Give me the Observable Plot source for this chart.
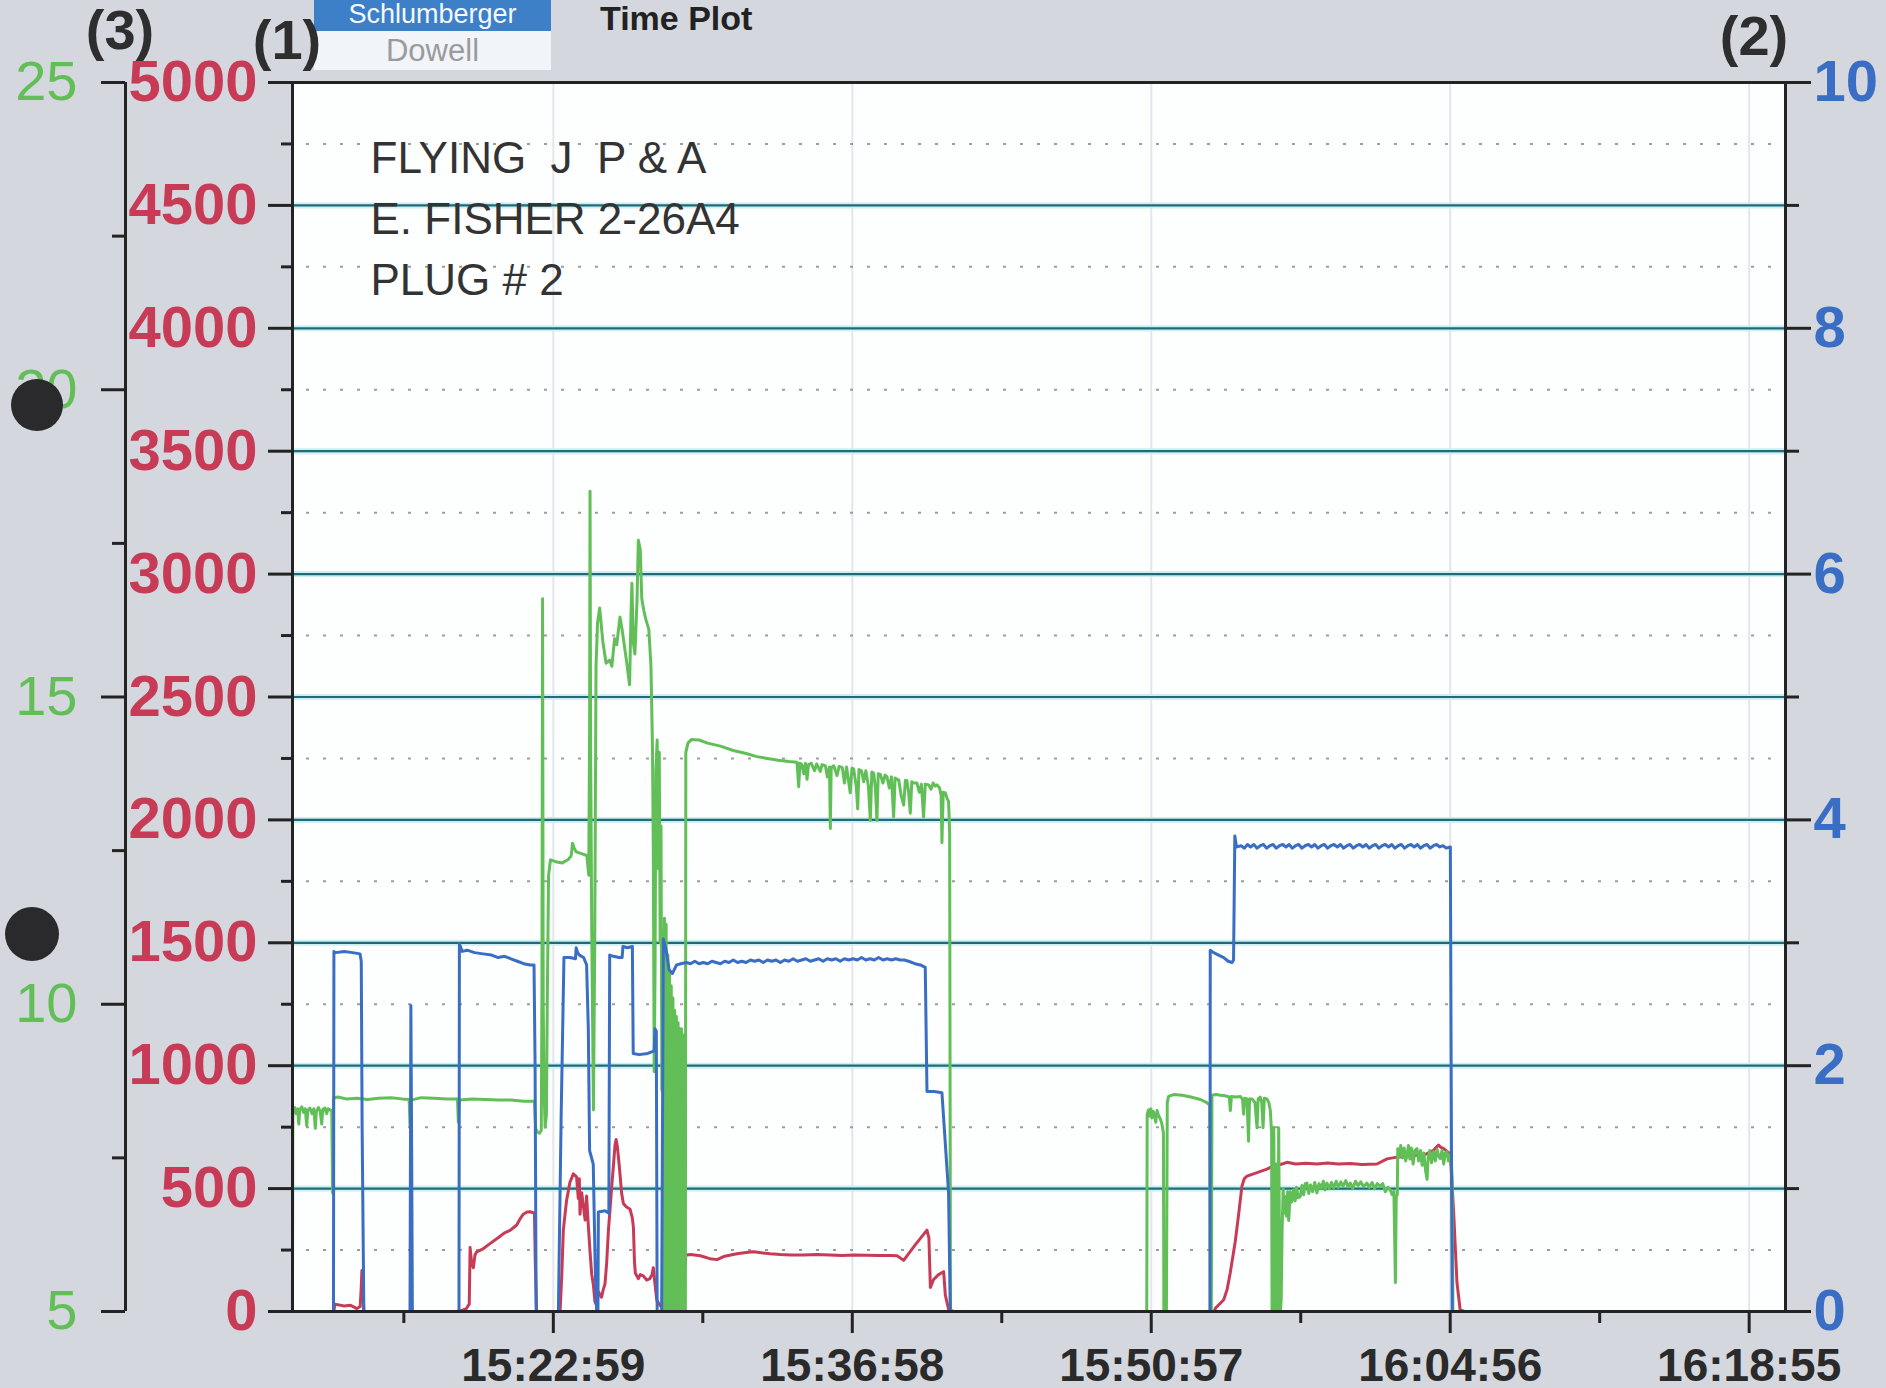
<!DOCTYPE html>
<html>
<head>
<meta charset="utf-8">
<script src="https://cdn.jsdelivr.net/npm/d3@7"></script>
<script src="https://cdn.jsdelivr.net/npm/@observablehq/plot@0.6"></script>
<style>
  html, body { margin: 0; padding: 0; }
  body { width: 1886px; height: 1388px; overflow: hidden; position: relative;
         background: #d4d7dd; font-family: "Liberation Sans", Arial, sans-serif; }
  #chart { position: absolute; left: 0; top: 0; }
  .ov { position: absolute; white-space: nowrap; }
  .paren { font-weight: bold; font-size: 56px; color: #2e2e2e; line-height: 1; transform: translate(-50%, -50%); }
  .hole { position: absolute; border-radius: 50%; background: #2a2a2d; }
  #slb { left: 314px; top: 0; width: 237px; height: 31px; background: #3d80c8; overflow: hidden; }
  #slb span { position: absolute; left: 0; width: 237px; text-align: center; top: 1px;
              color: #f4f8ff; font-size: 27px; line-height: 27px; }
  #dowell { left: 314px; top: 31px; width: 237px; height: 39px; background: #f1f4f9;
            color: #9b9b9b; font-size: 31px; line-height: 39px; text-align: center; }
  #tplot { left: 600px; top: 1px; font-weight: bold; font-size: 34px; line-height: 34px; color: #222; }
</style>
</head>
<body>
<div id="chart"></div>
<div class="ov" id="slb"><span>Schlumberger</span></div>
<div class="ov" id="dowell">Dowell</div>
<div class="ov" id="tplot">Time Plot</div>
<div class="ov paren" style="left:120px;top:30px">(3)</div>
<div class="ov paren" style="left:287px;top:40px">(1)</div>
<div class="ov paren" style="left:1754px;top:36px">(2)</div>
<div class="hole" style="left:11px;top:379px;width:52px;height:52px"></div>
<div class="hole" style="left:5px;top:907px;width:54px;height:54px"></div>
<script>
// ---------- data (time = minutes after 15:00:00) ----------
const xTickLabels = ["15:22:59", "15:36:58", "15:50:57", "16:04:56", "16:18:55"];
const xDomainLabels = ["15:10:47", "16:20:37"];
const pressureTicks = [0, 500, 1000, 1500, 2000, 2500, 3000, 3500, 4000, 4500, 5000];
const pressureMinor = [250, 750, 1250, 1750, 2250, 2750, 3250, 3750, 4250, 4750];
const rateTicks = [0, 2, 4, 6, 8, 10];
const rateMinor = [1, 3, 5, 7, 9];
const densityTicks = [5, 10, 15, 20, 25];
const densityMinor = [7.5, 12.5, 17.5, 22.5];
const annotation = ["FLYING\u00a0\u00a0J\u00a0\u00a0P & A", "E. FISHER 2-26A4", "PLUG # 2"];

// (1) pressure, psi (red)
const pressure = [
  [10.78,0],[12.72,0],[12.76,30],[13.20,22],[13.50,25],[13.80,12],[13.95,20],[14.00,100],[14.03,167],[14.07,120],[14.12,0],
  [18.55,0],[18.90,10],[19.05,30],[19.09,260],[19.16,200],[19.24,178],[19.32,230],[19.40,243],[19.70,255],[20.02,276],
  [20.40,300],[20.70,320],[20.96,330],[21.27,352],[21.45,380],[21.58,396],[21.75,405],[21.89,406],[22.10,400],[22.14,200],[22.20,0],
  [23.30,0],[23.38,150],[23.45,330],[23.60,450],[23.76,526],[23.92,560],[24.07,548],[24.15,460],[24.20,540],[24.23,396],
  [24.31,483],[24.40,420],[24.47,372],[24.54,470],[24.62,350],[24.70,243],[24.78,150],[24.85,112],[24.93,40],[25.01,25],
  [25.09,80],[25.17,70],[25.24,58],[25.32,90],[25.40,112],[25.48,200],[25.56,330],[25.64,420],[25.71,504],[25.80,600],
  [25.87,679],[25.92,700],[25.98,670],[26.06,600],[26.18,480],[26.26,439],[26.40,425],[26.57,417],[26.68,380],[26.73,341],
  [26.78,200],[26.82,156],[26.96,134],[27.05,150],[27.19,145],[27.35,128],[27.50,134],[27.60,150],[27.66,178],[27.74,110],
  [27.82,47],[27.97,25],[28.13,14],[28.50,20],[29.00,15],[29.18,230],[29.40,232],[29.86,227],[30.30,215],[30.64,211],
  [31.00,225],[31.57,235],[32.00,240],[32.35,243],[32.80,238],[33.13,235],[33.60,232],[34.10,230],[34.69,230],[35.30,232],
  [35.90,230],[36.50,228],[37.03,230],[37.60,229],[38.20,228],[38.80,228],[39.06,227],[39.37,208],[39.90,270],[40.46,331],
  [40.55,300],[40.62,98],[40.77,130],[41.00,150],[41.24,162],[41.32,66],[41.47,10],[41.71,0],
  [53.90,0],[53.95,13],[54.34,48],[54.50,90],[54.65,160],[54.88,285],[55.04,397],[55.19,509],[55.30,540],[55.43,551],
  [55.90,565],[56.36,579],[56.68,593],[57.00,598],[57.30,607],[57.70,600],[58.20,603],[58.70,600],[59.20,604],[59.70,600],
  [60.26,602],[60.80,598],[61.51,600],[61.98,621],[62.44,628],[62.90,632],[63.38,636],[63.80,640],[64.16,656],[64.30,670],
  [64.39,677],[64.50,668],[64.63,663],[64.80,650],[64.94,642],[65.09,411],[65.25,118],[65.40,6],[65.60,0]
];

// (2) rate, bbl/min (blue)
const rate = [
  [10.78,0],[12.70,0],[12.72,2.93],[12.80,2.92],[13.20,2.93],[13.60,2.92],[13.94,2.91],[14.00,2.85],[14.04,1.5],[14.12,0],
  [16.28,0],[16.32,2.49],[16.36,1.2],[16.39,0],
  [18.57,0],[18.59,2.99],[18.66,2.96],[18.72,2.93],[18.95,2.94],[19.30,2.92],[19.70,2.91],[20.10,2.90],[20.40,2.88],
  [20.70,2.89],[21.00,2.87],[21.30,2.85],[21.60,2.83],[21.90,2.82],[22.08,2.82],[22.13,2.0],[22.18,0],
  [23.22,0],[23.35,1.6],[23.48,2.88],[23.76,2.88],[24.02,2.87],[24.05,2.96],[24.12,2.92],[24.20,2.90],[24.40,2.88],
  [24.54,2.82],[24.62,2.3],[24.68,1.31],[24.85,1.20],[24.95,0.3],[25.01,0],[25.07,0],[25.09,0.81],[25.40,0.82],[25.58,0.80],
  [25.62,2.90],[25.80,2.89],[26.05,2.88],[26.20,2.88],[26.24,2.97],[26.45,2.96],[26.68,2.97],[26.72,2.10],[27.00,2.09],
  [27.40,2.10],[27.70,2.12],[27.74,2.30],[27.80,2.28],[27.84,0],[28.05,0],[28.13,3.03],[28.25,2.95],[28.40,2.78],
  [28.55,2.75],[28.75,2.82],[28.95,2.83],[29.20,2.84],[29.40,2.83],[29.60,2.85],[29.80,2.83],[30.00,2.84],[30.20,2.83],
  [30.40,2.85],[30.60,2.84],[30.80,2.83],[31.00,2.85],[31.20,2.84],[31.40,2.86],[31.60,2.84],[31.80,2.85],[32.00,2.84],
  [32.20,2.86],[32.40,2.85],[32.60,2.86],[32.80,2.84],[33.00,2.86],[33.20,2.85],[33.40,2.86],[33.60,2.84],[33.80,2.86],
  [34.00,2.85],[34.20,2.87],[34.40,2.85],[34.60,2.86],[34.80,2.87],[35.00,2.85],[35.20,2.86],[35.40,2.87],[35.60,2.85],
  [35.80,2.87],[36.00,2.86],[36.20,2.87],[36.40,2.85],[36.60,2.87],[36.80,2.86],[37.00,2.87],[37.20,2.86],[37.40,2.88],
  [37.60,2.86],[37.80,2.87],[38.00,2.86],[38.20,2.88],[38.40,2.86],[38.60,2.87],[38.80,2.86],[39.00,2.87],[39.20,2.86],
  [39.40,2.86],[39.60,2.85],[39.90,2.83],[40.15,2.82],[40.38,2.80],[40.46,1.79],[40.80,1.79],[41.16,1.78],
  [41.47,0.97],[41.55,0],
  [53.70,0],[53.71,2.94],[53.87,2.92],[54.10,2.90],[54.34,2.88],[54.55,2.85],[54.73,2.84],[54.80,2.86],[54.86,3.87],
  [54.92,3.80],[54.96,3.78],[55.15,3.79],[55.30,3.77],[55.45,3.80],[55.60,3.78],[55.75,3.80],[55.90,3.77],[56.05,3.79],
  [56.20,3.80],[56.35,3.77],[56.50,3.79],[56.65,3.80],[56.80,3.77],[56.95,3.79],[57.10,3.80],[57.25,3.78],[57.40,3.80],
  [57.55,3.77],[57.70,3.79],[57.85,3.80],[58.00,3.77],[58.15,3.79],[58.30,3.80],[58.45,3.78],[58.60,3.80],[58.75,3.77],
  [58.90,3.79],[59.05,3.80],[59.20,3.77],[59.35,3.79],[59.50,3.80],[59.65,3.78],[59.80,3.80],[59.95,3.77],[60.10,3.79],
  [60.25,3.80],[60.40,3.77],[60.55,3.79],[60.70,3.80],[60.85,3.78],[61.00,3.80],[61.15,3.77],[61.30,3.79],[61.45,3.80],
  [61.60,3.77],[61.75,3.79],[61.90,3.80],[62.05,3.78],[62.20,3.80],[62.35,3.77],[62.50,3.79],[62.65,3.80],[62.80,3.77],
  [62.95,3.79],[63.10,3.80],[63.25,3.78],[63.40,3.80],[63.55,3.77],[63.70,3.79],[63.85,3.80],[64.00,3.77],[64.15,3.79],
  [64.30,3.80],[64.45,3.78],[64.60,3.79],[64.75,3.77],[64.94,3.78],[65.00,1.0],[65.03,0],[65.30,0]
];

// (3) density, ppg (green)
const density = [
  [10.78,5.0],[10.80,8.25],[10.88,8.32],[10.95,8.22],[11.02,8.30],[11.08,8.05],[11.12,8.28],[11.22,8.33],[11.30,8.24],
  [11.38,8.30],[11.45,8.02],[11.50,8.27],[11.60,8.31],[11.70,8.22],[11.78,8.30],[11.85,7.98],[11.90,8.26],[12.00,8.32],
  [12.08,8.25],[12.15,8.05],[12.20,8.29],[12.30,8.31],[12.38,8.22],[12.45,8.30],[12.55,8.28],[12.62,8.26],[12.66,6.93],
  [12.70,8.47],[12.90,8.49],[13.30,8.46],[13.80,8.47],[14.30,8.45],[14.80,8.47],[15.40,8.48],[15.90,8.46],[16.24,8.45],
  [16.28,8.02],[16.33,8.44],[16.80,8.48],[17.40,8.47],[18.00,8.46],[18.50,8.46],[18.54,8.08],[18.58,8.44],[19.20,8.46],
  [19.80,8.45],[20.40,8.44],[21.00,8.44],[21.60,8.42],[22.10,8.42],[22.16,7.98],[22.24,7.92],[22.34,7.90],[22.42,7.95],
  [22.45,10.2],[22.48,16.6],[22.51,10.0],[22.55,8.6],[22.60,8.0],[22.66,8.2],[22.70,10.0],[22.76,12.1],[22.85,12.35],
  [23.10,12.32],[23.40,12.30],[23.70,12.36],[23.82,12.42],[23.88,12.62],[23.95,12.55],[24.05,12.48],[24.30,12.45],
  [24.55,12.42],[24.64,12.1],[24.68,14.5],[24.70,18.35],[24.73,14.0],[24.78,11.2],[24.86,8.28],[24.92,11.0],[24.98,15.5],
  [25.05,16.2],[25.15,16.45],[25.30,15.9],[25.45,15.55],[25.62,15.6],[25.72,15.5],[25.85,15.95],[25.95,15.85],[26.10,16.3],
  [26.20,16.1],[26.40,15.6],[26.55,15.2],[26.62,16.4],[26.66,16.85],[26.72,15.9],[26.80,15.7],[26.90,16.6],[26.96,17.55],
  [27.05,17.4],[27.12,16.6],[27.22,16.4],[27.32,16.25],[27.45,16.1],[27.55,15.5],[27.62,14.2],[27.66,12.5],[27.70,8.9],
  [27.74,10.5],[27.78,13.8],[27.84,14.3],[27.90,12.2],[27.94,14.1],[27.98,11.0],[28.02,12.9],[28.06,8.6],[28.10,10.2],
  [28.14,11.2],[28.16,5.0],[28.18,11.4],[28.20,5.0],[28.22,10.9],[28.24,5.0],[28.26,11.3],[28.28,5.0],[28.30,10.6],
  [28.32,5.0],[28.34,10.8],[28.36,5.0],[28.38,10.2],[28.40,5.0],[28.42,10.5],[28.44,5.0],[28.46,10.0],[28.48,5.0],
  [28.50,10.3],[28.52,5.0],[28.54,9.8],[28.56,5.0],[28.58,10.1],[28.60,5.0],[28.62,9.7],[28.64,5.0],[28.66,9.9],
  [28.68,5.0],[28.70,9.6],[28.72,5.0],[28.74,9.8],[28.76,5.0],[28.78,9.5],[28.80,5.0],[28.82,9.7],[28.84,5.0],
  [28.86,9.5],[28.88,5.0],[28.90,9.6],[28.92,5.0],[28.94,9.4],[28.96,5.0],[28.98,9.6],[29.00,5.0],[29.02,9.3],
  [29.04,5.0],[29.06,9.5],[29.08,5.0],[29.10,9.2],[29.12,5.0],[29.14,8.8],[29.16,5.0],[29.18,14.1],[29.28,14.25],
  [29.45,14.31],[29.80,14.30],[30.20,14.25],[30.80,14.20],
  [31.40,14.13],[32.00,14.08],[32.50,14.03],[33.00,14.00],[33.50,13.97],[34.00,13.95],[34.38,13.94],[34.46,13.54],
  [34.52,13.92],[34.61,13.90],[34.70,13.75],[34.78,13.92],[34.85,13.66],[34.92,13.90],[35.05,13.92],[35.20,13.80],
  [35.30,13.91],[35.47,13.79],[35.55,13.90],[35.71,13.88],[35.80,13.70],[35.90,13.86],[35.94,12.86],[35.98,13.85],
  [36.10,13.88],[36.25,13.72],[36.35,13.87],[36.50,13.85],[36.60,13.60],[36.70,13.86],[36.87,13.44],[36.95,13.84],
  [37.03,13.83],[37.15,13.55],[37.22,13.18],[37.28,13.82],[37.40,13.80],[37.50,13.62],[37.60,13.80],[37.72,13.55],
  [37.81,12.99],[37.88,13.78],[37.97,13.76],[38.05,13.50],[38.12,12.99],[38.18,13.75],[38.28,13.74],[38.40,13.60],
  [38.50,13.73],[38.59,13.70],[38.70,13.52],[38.80,13.70],[38.90,13.05],[38.97,13.68],[39.06,13.66],[39.14,13.65],
  [39.25,13.40],[39.37,13.24],[39.45,13.64],[39.52,13.64],[39.60,13.45],[39.68,13.11],[39.75,13.62],[39.85,13.60],
  [39.99,13.60],[40.10,13.45],[40.20,13.58],[40.30,13.05],[40.38,13.58],[40.54,13.57],[40.65,13.50],[40.75,13.60],
  [40.85,13.55],[40.93,13.57],[41.05,13.52],[41.12,13.40],[41.16,12.63],[41.22,13.45],[41.32,13.44],[41.40,13.35],
  [41.47,13.30],[41.52,12.8],[41.56,5.0],
  [50.74,5.0],[50.76,8.21],[50.82,8.28],[50.88,8.18],[50.93,8.30],[50.98,8.15],[51.04,8.26],[51.10,8.20],[51.16,8.08],
  [51.22,8.27],[51.30,8.18],[51.37,8.14],[51.45,8.05],[51.52,7.9],[51.54,5.0],[51.66,5.0],[51.70,8.40],[51.76,8.50],
  [52.00,8.53],[52.40,8.52],[52.80,8.49],[53.25,8.45],[53.55,8.40],[53.68,8.36],[53.71,5.0],[53.76,5.0],[53.79,8.52],
  [54.00,8.53],[54.18,8.52],[54.40,8.51],[54.60,8.49],[54.65,8.27],[54.70,8.50],[54.90,8.49],[55.12,8.50],[55.22,8.45],
  [55.27,8.21],[55.32,8.47],[55.43,8.46],[55.50,7.77],[55.55,8.46],[55.66,8.46],[55.80,8.40],[55.90,7.99],[55.95,8.46],
  [56.05,8.49],[56.12,8.40],[56.18,7.99],[56.24,8.47],[56.36,8.46],[56.45,8.40],[56.52,8.27],[56.58,7.9],[56.60,5.0],
  [56.64,5.0],[56.68,8.0],[56.72,6.2],[56.76,5.0],[56.80,7.4],[56.84,5.0],[56.88,5.0],[56.91,7.99],[56.95,6.0],[56.99,5.0],
  [57.03,5.2],[57.07,6.31],[57.12,7.0],[57.16,6.6],[57.22,6.87],[57.28,6.55],[57.33,6.95],[57.38,6.48],[57.45,6.95],
  [57.52,6.78],[57.61,6.98],[57.68,6.80],[57.75,7.02],[57.82,6.85],[57.92,6.87],[58.00,7.05],[58.08,6.90],[58.15,7.08],
  [58.23,7.09],[58.32,6.92],[58.40,7.06],[58.50,6.95],[58.60,7.10],[58.70,6.93],[58.80,7.08],[58.90,7.00],[59.00,7.12],
  [59.08,6.98],[59.17,7.09],[59.28,7.00],[59.38,7.10],[59.48,7.01],[59.60,7.12],[59.70,7.02],[59.82,7.11],[59.92,7.04],
  [60.05,7.13],[60.15,7.03],[60.26,7.09],[60.38,7.00],[60.50,7.12],[60.62,7.05],[60.75,7.11],[60.88,7.03],[61.04,7.09],
  [61.15,7.02],[61.28,7.10],[61.40,7.00],[61.52,7.08],[61.66,7.04],[61.78,7.08],[61.90,6.95],[62.02,7.02],[62.13,6.98],
  [62.22,6.90],[62.30,6.95],[62.37,5.47],[62.41,6.87],[62.46,6.90],[62.48,7.65],[62.55,7.52],[62.62,7.70],[62.70,7.50],
  [62.78,7.66],[62.85,7.45],[62.91,7.54],[62.98,7.70],[63.05,7.48],[63.12,7.66],[63.20,7.40],[63.28,7.62],[63.38,7.65],
  [63.46,7.45],[63.55,7.62],[63.62,7.38],[63.70,7.58],[63.78,7.30],[63.85,7.15],[63.90,7.50],[63.98,7.62],[64.06,7.42],
  [64.16,7.60],[64.24,7.45],[64.32,7.64],[64.40,7.52],[64.47,7.49],[64.55,7.62],[64.63,7.40],[64.70,7.58],[64.78,7.60],
  [64.85,7.45],[64.92,7.55],[64.97,7.49],[65.02,7.2],[65.06,5.0],[65.20,5.0]
];

// ---------- drawing ----------
const RED = "#c83b57", BLUE = "#3a6ec4", GREEN = "#62bf58", TEAL = "#1f6c79", INK = "#232323";
const parse = d3.utcParse("%H:%M:%S");
const base = parse("15:00:00");
const toDate = m => new Date(+base + m * 60000);
const majorT = xTickLabels.map(parse);
const minorT = majorT.map(d => new Date(+d - 419500));
const yRate = r => r * 500;          // rate axis (0-10) onto pressure span
const yDensity = g => (g - 5) * 250; // density axis (5-25) onto pressure span
const tealY = pressureTicks.filter(v => v > 0 && v < 5000);
const fmtT = d3.utcFormat("%H:%M:%S");
const GREEN_AXIS_DX = -167;

const chart = Plot.plot({
  width: 1886, height: 1388,
  marginLeft: 292, marginRight: 101, marginTop: 82, marginBottom: 77,
  style: { background: "transparent", fontFamily: "Liberation Sans, Arial, sans-serif", overflow: "visible" },
  x: { type: "utc", domain: xDomainLabels.map(parse) },
  y: { domain: [0, 5000] },
  marks: [
    Plot.frame({ fill: "#fdfefe", stroke: null }),
    Plot.ruleX(majorT, { stroke: "#e3e6ea", strokeWidth: 2 }),
    Plot.ruleY(pressureMinor, { stroke: "#9d9d9d", strokeWidth: 2, strokeDasharray: "3,14", insetLeft: 14, insetRight: 12 }),
    Plot.ruleY(tealY, { stroke: "#cdeef3", strokeWidth: 6 }),
    Plot.ruleY(tealY, { stroke: TEAL, strokeWidth: 2.2 }),
    Plot.line(pressure, { x: d => toDate(d[0]), y: d => d[1], stroke: RED, strokeWidth: 3 }),
    Plot.line(density, { x: d => toDate(d[0]), y: d => yDensity(d[1]), stroke: GREEN, strokeWidth: 3 }),
    Plot.line(rate, { x: d => toDate(d[0]), y: d => yRate(d[1]), stroke: BLUE, strokeWidth: 3 }),
    Plot.text([annotation.join("\n")], {
      frameAnchor: "top-left", dx: 78, dy: 47, lineAnchor: "top", textAnchor: "start",
      lineHeight: 1.39, fontSize: 44, fill: "#333"
    }),
    // green (3) axis line
    Plot.ruleX([parse(xDomainLabels[0])], { y1: 0, y2: 5000, dx: GREEN_AXIS_DX, stroke: INK, strokeWidth: 3 }),
    Plot.frame({ stroke: INK, strokeWidth: 3 }),
    // (1) pressure axis
    Plot.axisY({ anchor: "left", ticks: pressureTicks, tickFormat: d => String(d), tickSize: 24, tickPadding: 11,
      fontSize: 58, fontWeight: "bold", fill: RED, stroke: INK, strokeWidth: 3, label: null }),
    Plot.axisY({ anchor: "left", ticks: pressureMinor, tickFormat: () => "", tickSize: 11, stroke: INK, strokeWidth: 3, label: null }),
    // (3) density axis
    Plot.axisY({ anchor: "left", dx: GREEN_AXIS_DX, ticks: densityTicks.map(yDensity), tickFormat: d => String(5 + d / 250),
      tickSize: 24, tickPadding: 24, fontSize: 56, fill: GREEN, stroke: INK, strokeWidth: 3, label: null }),
    Plot.axisY({ anchor: "left", dx: GREEN_AXIS_DX, ticks: densityMinor.map(yDensity), tickFormat: () => "",
      tickSize: 13, stroke: INK, strokeWidth: 3, label: null }),
    // (2) rate axis
    Plot.axisY({ anchor: "right", ticks: rateTicks.map(yRate), tickFormat: d => String(d / 500), tickSize: 25, tickPadding: 3,
      fontSize: 58, fontWeight: "bold", fill: BLUE, stroke: INK, strokeWidth: 3, label: null }),
    Plot.axisY({ anchor: "right", ticks: rateMinor.map(yRate), tickFormat: () => "", tickSize: 13, stroke: INK, strokeWidth: 3, label: null }),
    // time axis
    Plot.axisX({ ticks: majorT, tickFormat: fmtT, tickSize: 22, tickPadding: 15, fontSize: 46, fontWeight: "bold",
      fill: "#2a2a2a", stroke: INK, strokeWidth: 3, label: null }),
    Plot.axisX({ ticks: minorT, tickFormat: () => "", tickSize: 12, stroke: INK, strokeWidth: 3, label: null })
  ]
});
document.getElementById("chart").appendChild(chart);
</script>
</body>
</html>
